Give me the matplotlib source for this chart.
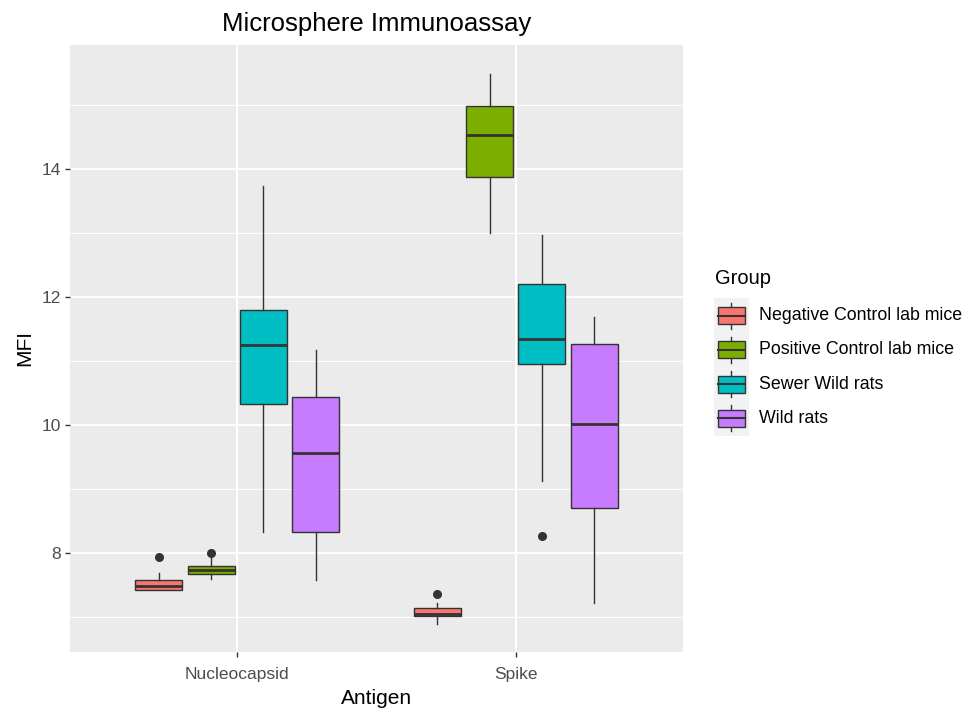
import numpy as np
import matplotlib
matplotlib.use("Agg")
import matplotlib.pyplot as plt
from matplotlib.patches import Rectangle

plt.rcParams['font.family'] = ['Liberation Sans', 'DejaVu Sans']

antigens = ['Nucleocapsid', 'Spike']
groups = ['Negative Control lab mice', 'Positive Control lab mice',
          'Sewer Wild rats', 'Wild rats']
colors = ['#F8766D', '#7CAE00', '#00BFC4', '#C77CFF']

# box summaries, [Nucleocapsid, Spike] per group
whislo = [[7.42, 6.89], [7.59, 13.00], [8.32, 9.13], [7.57, 7.21]]
q1 = [[7.42, 7.01], [7.67, 13.88], [10.33, 10.96], [8.33, 8.70]]
med = [[7.48, 7.05], [7.73, 14.53], [11.25, 11.34], [9.56, 10.01]]
q3 = [[7.58, 7.14], [7.79, 14.98], [11.79, 12.21], [10.43, 11.26]]
whishi = [[7.68, 7.21], [7.94, 15.48], [13.73, 12.97], [11.17, 11.68]]
fliers = [[[7.93], [7.36]], [[8.00], []], [[], [8.26]], [[], []]]

W, H = 970, 708
fig = plt.figure(figsize=(W / 100, H / 100), dpi=100)
ax = fig.add_axes([70 / W, 1 - 652 / H, 613 / W, 607 / H])
ax.set_facecolor('#EBEBEB')
for s in ax.spines.values():
    s.set_visible(False)

dodge = 0.75 / len(groups)
bw = dodge * 0.9
for g in range(len(groups)):
    stats = []
    pos = []
    for a in range(len(antigens)):
        stats.append(dict(whislo=whislo[g][a], q1=q1[g][a], med=med[g][a],
                          q3=q3[g][a], whishi=whishi[g][a], fliers=fliers[g][a]))
        pos.append(a + 1 + (g - 1.5) * dodge)
    ax.bxp(stats, positions=pos, widths=bw, patch_artist=True,
           showcaps=False, manage_ticks=False,
           boxprops=dict(facecolor=colors[g], edgecolor='#333333', linewidth=1.0),
           medianprops=dict(color='#333333', linewidth=2.0),
           whiskerprops=dict(color='#333333', linewidth=1.0),
           flierprops=dict(marker='o', markerfacecolor='#333333',
                           markeredgecolor='#333333', markersize=5.5),
           zorder=3)

ax.set_xlim(0.4, 2.6)
ax.set_ylim(6.45, 15.94)
ax.set_xticks([1, 2])
ax.set_xticklabels(antigens)
ax.set_yticks([8, 10, 12, 14])
ax.set_yticks([7, 9, 11, 13, 15], minor=True)
ax.grid(which='major', color='white', linewidth=1.4, zorder=0)
ax.grid(which='minor', axis='y', color='white', linewidth=0.7, zorder=0)
ax.set_axisbelow(True)
ax.tick_params(which='major', length=3.5, width=1.0, color='#333333',
               labelsize=12.5, labelcolor='#4D4D4D', pad=3)
ax.tick_params(axis='x', which='major', pad=7)
ax.tick_params(which='minor', length=0)

ax.set_xlabel('Antigen', fontsize=15, labelpad=5)
ax.set_ylabel('MFI', fontsize=15, labelpad=5)
ax.set_title('Microsphere Immunoassay', fontsize=18.5, pad=10)

# legend drawn in pixel coordinates
lg = fig.add_axes([0, 0, 1, 1], facecolor='none')
lg.set_xlim(0, W)
lg.set_ylim(H, 0)
lg.axis('off')
lg.text(715, 278, 'Group', fontsize=14.5, va='center', ha='left')
lg.add_patch(Rectangle((714, 298), 35, 138, facecolor='#F2F2F2', edgecolor='none'))
for i, (name, c) in enumerate(zip(groups, colors)):
    cy = 315.5 + i * 34.3
    lg.plot([731, 731], [cy - 13, cy + 13], color='#333333', lw=1.0)
    lg.add_patch(Rectangle((718, cy - 8.5), 27, 17, facecolor=c,
                           edgecolor='#333333', linewidth=1.0, zorder=3))
    lg.plot([718, 745], [cy, cy], color='#333333', lw=1.5, zorder=4)
    lg.text(759, cy, name, fontsize=12.8, va='center', ha='left')

fig.savefig('out.png', dpi=100)
